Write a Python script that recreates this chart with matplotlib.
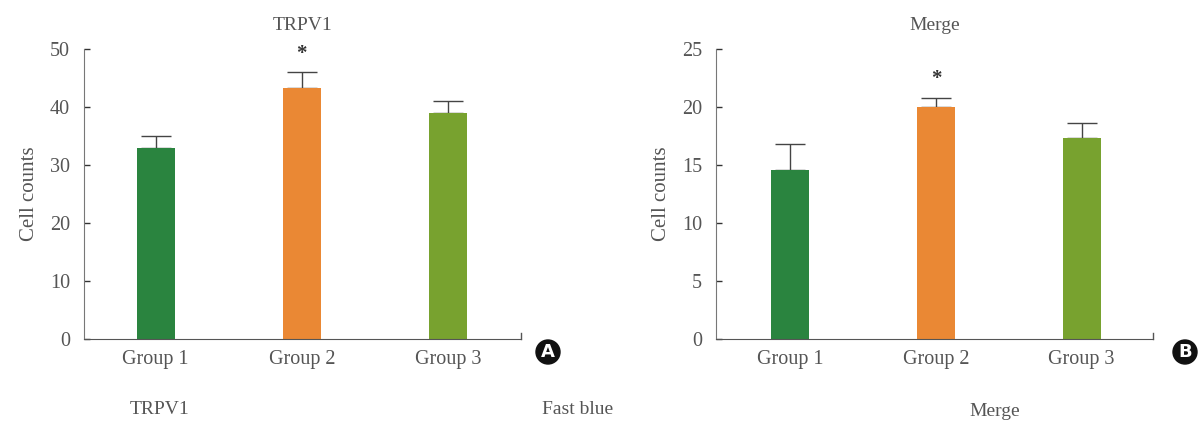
import matplotlib.pyplot as plt
from matplotlib.patches import Circle

groups = ["Group 1", "Group 2", "Group 3"]
colors = ["#2a843f", "#ea8834", "#78a22f"]

trpv1_vals = [33.0, 43.3, 39.0]
trpv1_err = [2.0, 2.7, 2.0]

merge_vals = [14.6, 20.0, 17.3]
merge_err = [2.2, 0.8, 1.3]

plt.rcParams['font.family'] = ['Liberation Serif', 'DejaVu Serif']
txt = "#555555"

fig = plt.figure(figsize=(12.02, 4.22), dpi=100)


def panel(rect, vals, errs, ymax, step, title, xlim):
    ax = fig.add_axes(rect)
    x = range(len(vals))
    ax.bar(x, vals, width=0.26, color=colors, zorder=2)
    ax.errorbar(x, vals, yerr=[[0] * len(errs), errs], fmt='none', ecolor="#444444",
                elinewidth=1, capsize=11, capthick=1, zorder=1)
    ax.set_xlim(*xlim)
    ax.set_ylim(0, ymax)
    ax.set_yticks(range(0, ymax + 1, step))
    ax.set_xticks(list(x))
    ax.set_xticklabels(groups)
    ax.tick_params(axis='x', length=0, pad=8, labelsize=14.5, labelcolor=txt)
    ax.tick_params(axis='y', direction='in', length=4.5, width=1, color="#333333",
                   pad=10, labelsize=14.5, labelcolor=txt)
    for s in ["top", "right"]:
        ax.spines[s].set_visible(False)
    ax.spines["left"].set_color("#777777")
    ax.spines["bottom"].set_color("#555555")
    ax.set_ylabel("Cell counts", fontsize=15, color=txt, labelpad=8)
    ax.set_title(title, fontsize=14, color=txt, pad=14)
    # small tick at right end of x-axis
    ax.plot([xlim[1], xlim[1]], [0, ymax * 0.02], color="#555555", lw=1, clip_on=False)
    # asterisk over group 2
    ax.annotate("*", (1, vals[1] + errs[1]), xytext=(0, 6), textcoords="offset points",
                ha="center", va="bottom", fontsize=15, color="#333333", fontweight="bold")
    return ax


axA = panel([0.0699, 0.1967, 0.3635, 0.6872], trpv1_vals, trpv1_err, 50, 10,
            "TRPV1", (-0.49, 2.5))
axB = panel([0.5957, 0.1967, 0.3635, 0.6872], merge_vals, merge_err, 25, 5,
            "Merge", (-0.51, 2.49))

for cx, letter in [(548, "A"), (1185, "B")]:
    fx, fy = cx / 1202, 1 - 352 / 422
    fig.patches.append(Circle((fx * 12.02 * 100, fy * 4.22 * 100), 12, transform=None,
                              color="#111111"))
    fig.text(fx, fy, letter, ha="center", va="center", color="white", fontsize=13,
             fontweight="bold", family="DejaVu Sans")

fig.text(160 / 1202, 1 - 410 / 422, "TRPV1", ha="center", va="center", fontsize=14, color=txt)
fig.text(578 / 1202, 1 - 410 / 422, "Fast blue", ha="center", va="center", fontsize=14, color=txt)
fig.text(995 / 1202, 1 - 411 / 422, "Merge", ha="center", va="center", fontsize=14, color=txt)

fig.savefig("out.png", dpi=100)
